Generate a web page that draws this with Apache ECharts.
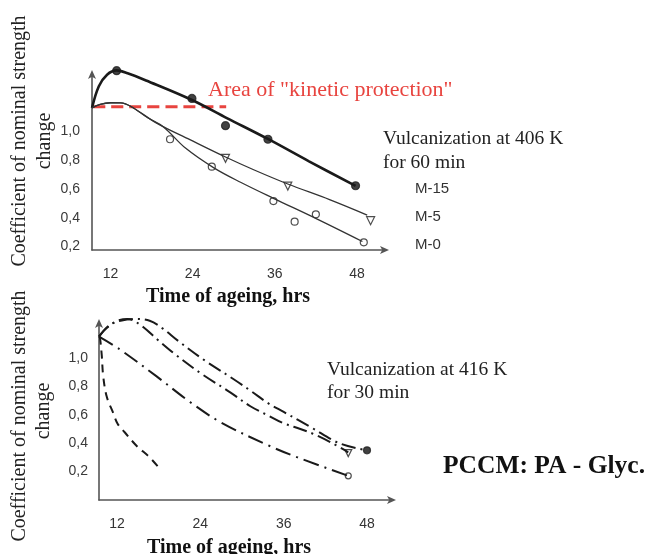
<!DOCTYPE html>
<html>
<head>
<meta charset="utf-8">
<script src="https://cdn.jsdelivr.net/npm/echarts@6/dist/echarts.min.js"></script>
<style>html,body{margin:0;padding:0;background:#fff}#c{width:651px;height:554px}</style>
</head>
<body>
<div id="c"></div>
<script>
// ---------- DATA ----------
const xTickValues = [12, 24, 36, 48];
const yTickValues = [0.2, 0.4, 0.6, 0.8, 1.0];

// Top chart: Vulcanization at 406 K for 60 min
const m15Curve = [[9.3,1.16],[10.3,1.31],[11.5,1.39],[12.9,1.42],[14.5,1.40],[17.2,1.35],[23.9,1.215],[29,1.09],[35,0.945],[41,0.79],[47.8,0.62]];
const m15Points = [[12.9,1.418],[23.9,1.226],[28.8,1.037],[35.0,0.943],[47.8,0.621]];
const m5Curve = [[9.3,1.16],[10.5,1.185],[12,1.196],[13.5,1.195],[15,1.17],[18.8,1.053],[23.6,0.94],[28.8,0.82],[33,0.73],[37.9,0.633],[44,0.525],[49.5,0.418]];
const m5Points = [[28.8,0.811],[37.9,0.619],[50.0,0.379]];
const m0Curve = [[9.3,1.16],[10.5,1.185],[12,1.196],[13.5,1.195],[15,1.17],[17.5,1.09],[19.7,1.03],[23,0.88],[27.1,0.745],[31,0.645],[35.8,0.534],[42.2,0.39],[48.8,0.235]];
const m0Points = [[20.7,0.943],[26.8,0.753],[35.8,0.515],[38.9,0.372],[42.0,0.423],[49.0,0.229]];
const kineticLevel = [[9.5,1.168],[28.9,1.168]];

// Bottom chart: Vulcanization at 416 K for 30 min
const c1Curve = [[9.4,1.15],[10.9,1.23],[12.5,1.262],[14.5,1.275],[16.7,1.262],[18.5,1.21],[20.8,1.12],[24.7,0.98],[28.8,0.85],[31.2,0.77],[33.8,0.68],[36,0.62],[40,0.51],[44,0.40],[48,0.35]];
const c1End = [[48.0,0.35]];
const c2Curve = [[9.4,1.15],[10.5,1.21],[12,1.26],[13.5,1.275],[15.5,1.227],[17.8,1.13],[20.3,1.028],[24.2,0.887],[28.3,0.758],[31.2,0.66],[33.8,0.594],[36,0.54],[38.4,0.50],[40.3,0.465],[43,0.40],[45.3,0.336]];
const c2End = [[45.3,0.33]];
const c3Curve = [[9.4,1.15],[12.4,1.06],[17.7,0.87],[22.5,0.69],[27,0.545],[34,0.38],[38,0.30],[45.3,0.17]];
const c3End = [[45.3,0.17]];
const c4Curve = [[9.5,1.15],[9.6,1.12],[9.8,1.016],[10.0,0.875],[10.5,0.73],[11.4,0.618],[12.1,0.535],[13.1,0.477],[14.8,0.382],[16.7,0.30],[18.4,0.206]];

const yTitle1 = 'Coefficient of nominal strength';
const yTitle2 = 'change';
const xTitle = 'Time of ageing, hrs';

// ---------- CHART ----------
const chart = echarts.init(document.getElementById('c'), null, {renderer: 'canvas'});
const ink = '#1a1a1a';
const axisCommon = {
  axisLine: {show: true, lineStyle: {color: '#555', width: 1.6}, symbol: ['none', 'arrow'], symbolSize: [6, 9], symbolOffset: [0, 4]},
  axisTick: {show: false},
  splitLine: {show: false}
};
function xAx(idx, min, max) {
  return Object.assign({}, axisCommon, {
    type: 'value', gridIndex: idx, min: min, max: max,
    axisLabel: {customValues: xTickValues, color: '#333', fontFamily: 'Liberation Sans', fontSize: 14, margin: 17}
  });
}
function yAx(idx, min, max, margin) {
  return Object.assign({}, axisCommon, {
    type: 'value', gridIndex: idx, min: min, max: max,
    axisLabel: {customValues: yTickValues, color: '#3a3a3a', fontFamily: 'Liberation Sans', fontSize: 14, margin: margin,
      formatter: v => v.toFixed(1).replace('.', ',')}
  });
}
function curve(data, xi, width, type, color) {
  return {type: 'line', xAxisIndex: xi, yAxisIndex: xi, data: data, smooth: 0.35, smoothMonotone: null,
    showSymbol: false, symbol: 'none', clip: false, silent: true,
    lineStyle: {color: color || ink, width: width, type: type || 'solid'}};
}
function pts(data, xi, symbol, size, fill, rotate) {
  return {type: 'scatter', xAxisIndex: xi, yAxisIndex: xi, data: data, symbol: symbol, symbolSize: size,
    symbolRotate: rotate || 0, clip: false, silent: true,
    itemStyle: {color: fill, borderColor: '#222', borderWidth: 1.2}};
}
const dashDot = [14, 5, 2, 5];

function txt(text, x, y, font, fill, align, rot) {
  return {type: 'text', x: x, y: y, rotation: rot || 0, silent: true,
    style: {text: text, font: font, fill: fill || ink, align: align || 'left', verticalAlign: 'middle'}};
}
const serif = "'Liberation Serif'";

chart.setOption({
  animation: false,
  backgroundColor: '#fff',
  grid: [
    {left: 92, top: 74, width: 293, height: 176},
    {left: 99, top: 323, width: 293, height: 177}
  ],
  xAxis: [xAx(0, 9.3, 52.1), xAx(1, 9.4, 51.6)],
  yAxis: [yAx(0, 0.176, 1.395, 12), yAx(1, 0, 1.246, 11)],
  series: [
    curve(kineticLevel, 0, 3, [12, 6], '#e8443f'),
    curve(m15Curve, 0, 2.6),
    curve(m5Curve, 0, 1.3, 'solid', '#333'),
    curve(m0Curve, 0, 1.3, 'solid', '#333'),
    pts(m15Points, 0, 'circle', 8, '#111'),
    pts(m5Points, 0, 'triangle', 8, '#fff', 180),
    pts(m0Points, 0, 'circle', 7, '#fff'),
    curve(c1Curve, 1, 2, dashDot),
    curve(c2Curve, 1, 2, dashDot),
    curve(c3Curve, 1, 2, [16, 6, 2, 6]),
    curve(c4Curve, 1, 2, [8, 6]),
    pts(c1End, 1, 'circle', 7, '#111'),
    pts(c2End, 1, 'triangle', 7, '#fff', 180),
    pts(c3End, 1, 'circle', 6, '#fff')
  ],
  graphic: [
    txt('Area of "kinetic protection"', 208, 90, '22px ' + serif, '#e8443f'),
    txt('Vulcanization at 406 K', 383, 139, '19.5px ' + serif, '#222'),
    txt('for 60 min', 383, 163, '19.5px ' + serif, '#222'),
    txt('M-15', 415, 189, '15px Liberation Sans', '#333'),
    txt('M-5', 415, 217, '15px Liberation Sans', '#333'),
    txt('M-0', 415, 245, '15px Liberation Sans', '#333'),
    txt(xTitle, 228, 297, 'bold 20px ' + serif, '#111', 'center'),
    txt(yTitle1, 20, 141, '20px ' + serif, '#222', 'center', Math.PI / 2),
    txt(yTitle2, 45, 141, '20px ' + serif, '#222', 'center', Math.PI / 2),
    txt('Vulcanization at 416 K', 327, 370, '19.5px ' + serif, '#222'),
    txt('for 30 min', 327, 393, '19.5px ' + serif, '#222'),
    txt('PCCM: PA - Glyc.', 443, 466, 'bold 25.5px ' + serif, '#111'),
    txt(xTitle, 229, 548, 'bold 20px ' + serif, '#111', 'center'),
    txt(yTitle1, 20, 416, '20px ' + serif, '#222', 'center', Math.PI / 2),
    txt(yTitle2, 44, 411, '20px ' + serif, '#222', 'center', Math.PI / 2)
  ]
});
</script>
</body>
</html>
